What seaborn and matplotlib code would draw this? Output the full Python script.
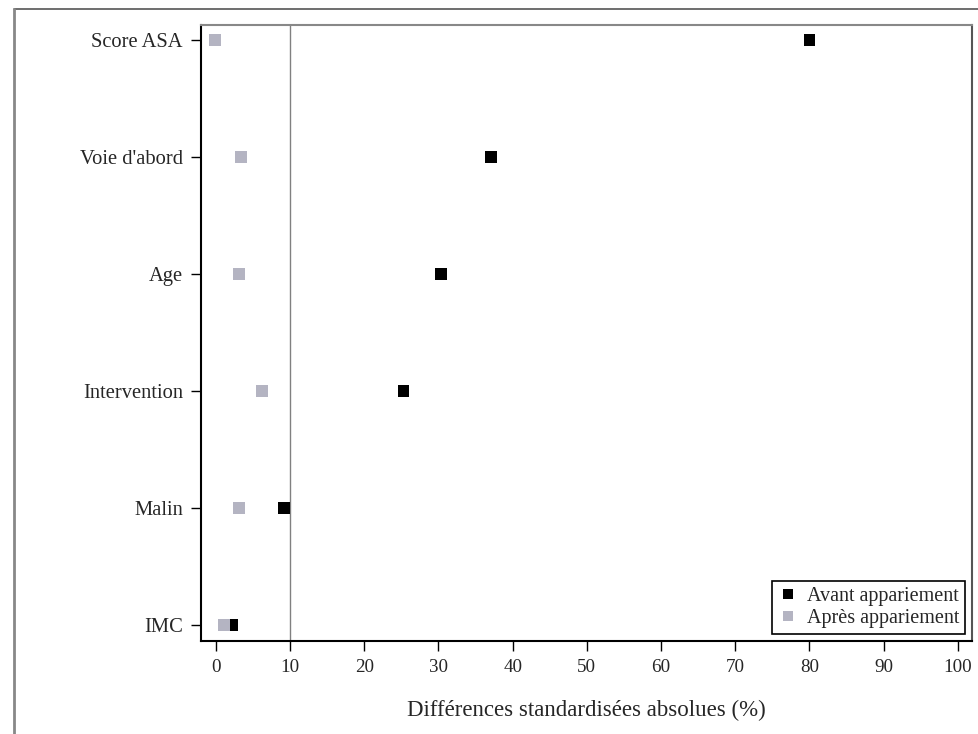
import matplotlib
matplotlib.use("Agg")
import matplotlib.pyplot as plt
import seaborn as sns
import pandas as pd
from matplotlib.lines import Line2D

categories = ["Score ASA", "Voie d'abord", "Age", "Intervention", "Malin", "IMC"]
avant = [80.0, 37.1, 30.3, 25.3, 9.2, 2.2]
apres = [-0.1, 3.4, 3.1, 6.2, 3.1, 1.1]
groups = ["Avant appariement", "Après appariement"]
xticks = [0, 10, 20, 30, 40, 50, 60, 70, 80, 90, 100]

df = pd.DataFrame({
    "Variable": categories * 2,
    "Diff": avant + apres,
    "Groupe": [groups[0]] * len(categories) + [groups[1]] * len(categories),
})

sns.set_style("white")
plt.rcParams["font.family"] = ["Liberation Serif", "DejaVu Serif"]

fig = plt.figure(figsize=(9.79, 7.34), dpi=100)
ax = fig.add_axes([201 / 979, 1 - 641 / 734, (972 - 201) / 979, (641 - 25) / 734])

palette = {groups[0]: "#000000", groups[1]: "#b4b4c2"}
sns.stripplot(data=df, x="Diff", y="Variable", hue="Groupe", order=categories,
              hue_order=groups, palette=palette, jitter=False, dodge=False,
              marker="s", s=8.5, linewidth=0, ax=ax, zorder=3)

ax.axvline(10, color="#808080", linewidth=1.0, zorder=1)
ax.set_xlim(-2.0, 101.9)
ax.set_ylim(5.14, -0.13)
ax.set_xticks(xticks)
ax.set_xticklabels([str(t) for t in xticks])
ax.tick_params(axis="both", direction="out", length=7, width=1.0, color="black",
               left=True, bottom=True)
ax.tick_params(axis="y", labelsize=14.8, pad=6)
ax.tick_params(axis="x", labelsize=13.7, pad=6)
ax.set_ylabel("")
ax.set_xlabel("Différences standardisées absolues (%)", fontsize=16.5, labelpad=17)
for name, sp in ax.spines.items():
    sp.set_visible(True)
    sp.set_color("black")
    sp.set_linewidth(1.5)
ax.spines["top"].set_color("#888888")
ax.spines["right"].set_color("#555555")

handles = [Line2D([], [], marker="s", linestyle="", markersize=7,
                  markerfacecolor=palette[g], markeredgewidth=0) for g in groups]
leg = ax.legend(handles, groups, loc="lower right", fontsize=14.5, frameon=True,
                fancybox=False, edgecolor="black", framealpha=1,
                handletextpad=0.4, handlelength=1.0, borderpad=0.3,
                labelspacing=0.15, borderaxespad=0.35)
leg.get_frame().set_linewidth(1.2)

# outer frame of the original graphic
fig.add_artist(Line2D([14 / 979, 1.0], [1 - 9 / 734, 1 - 9 / 734],
                      transform=fig.transFigure, color="#555555", linewidth=1.2))
fig.add_artist(Line2D([14 / 979, 14 / 979], [0, 1 - 9 / 734],
                      transform=fig.transFigure, color="#888888", linewidth=2.0))

fig.savefig("out.png", dpi=100)
